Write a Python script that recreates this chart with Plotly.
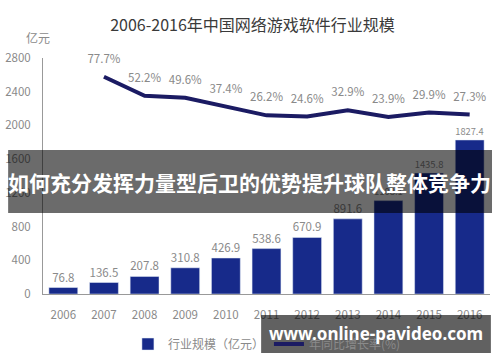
import plotly.graph_objects as go

years = ["2006", "2007", "2008", "2009", "2010", "2011", "2012", "2013", "2014", "2015", "2016"]
scale = [76.8, 136.5, 207.8, 310.8, 426.9, 538.6, 670.9, 891.6, 1108.1, 1435.8, 1827.4]
growth_years = ["2007", "2008", "2009", "2010", "2011", "2012", "2013", "2014", "2015", "2016"]
growth = [77.7, 52.2, 49.6, 37.4, 26.2, 24.6, 32.9, 23.9, 29.9, 27.3]
y_ticks = [0, 400, 800, 1200, 1600, 2000, 2400, 2800]

FONT = "Noto Sans CJK SC"
GRAY = "#8a8a8a"

fig = go.Figure()
fig.add_trace(go.Bar(
    x=years, y=scale, name="行业规模（亿元）",
    marker=dict(color="#172a8a"),
    text=[f"{v:.1f}" for v in scale], textposition="outside",
    textfont=dict(size=11.5, color=GRAY, family=FONT),
    cliponaxis=False,
))
fig.add_trace(go.Scatter(
    x=growth_years, y=growth, name="年同比增长率(%)", yaxis="y2",
    mode="lines+markers+text", line=dict(color="#1b1b63", width=4),
    marker=dict(size=16, color="rgba(0,0,0,0)", line=dict(width=0)),
    text=[f"{g:.1f}%" for g in growth], textposition="top center",
    textfont=dict(size=11.5, color=GRAY, family=FONT),
    cliponaxis=False,
))

fig.update_layout(
    width=500, height=362,
    margin=dict(l=43, r=10, t=58, b=68, autoexpand=False),
    paper_bgcolor="white", plot_bgcolor="white",
    font=dict(family=FONT, color=GRAY, size=12),
    bargap=0.29,
    title=dict(text="2006-2016年中国网络游戏软件行业规模", x=0.505, xanchor="center",
               y=0.931, yanchor="middle",
               font=dict(size=16, color="#3a3a3a", family=FONT)),
    xaxis=dict(type="category", range=[-0.5, 10.5], showline=True, linecolor="#999999",
               linewidth=1, ticks="", showgrid=False, ticklabelstandoff=10, automargin=False,
               tickfont=dict(size=11.5, color=GRAY)),
    yaxis=dict(range=[0, 2800], tickvals=y_ticks, showline=True, linecolor="#999999",
               linewidth=1, showgrid=False, zeroline=False, ticks="", ticklabelstandoff=9,
               automargin=False, tickfont=dict(size=11.5, color=GRAY)),
    yaxis2=dict(overlaying="y", range=[-212, 102.7], showgrid=False, zeroline=False,
                showticklabels=False, showline=False, ticks="", automargin=False),
    showlegend=True,
    legend=dict(orientation="h", x=0.19, y=-0.212, xanchor="left", yanchor="middle",
                font=dict(size=12, color=GRAY), bgcolor="rgba(0,0,0,0)"),
)

fig.add_annotation(text="亿元", x=-0.0425, y=1.131, xref="paper", yref="paper",
                   showarrow=False, font=dict(size=12, color=GRAY, family=FONT))

# overlay banner
fig.add_shape(type="rect", xref="paper", yref="paper", x0=-0.078, x1=1.0045, y0=0.343, y1=0.610,
              fillcolor="rgba(0,0,0,0.58)", line=dict(width=0), layer="above")
fig.add_annotation(text="<b>如何充分发挥力量型后卫的优势提升球队整体竞争力</b>", x=0.463, y=0.475,
                   xref="paper", yref="paper", xanchor="center", yanchor="middle", showarrow=False,
                   font=dict(size=21, color="white", family=FONT))
# watermark box
fig.add_shape(type="rect", xref="paper", yref="paper", x0=0.488, x1=1.002, y0=-0.25, y1=-0.089,
              fillcolor="rgba(0,0,0,0.62)", line=dict(width=0), layer="above")
fig.add_annotation(text="<b>www.online-pavideo.com</b>", x=0.745, y=-0.169,
                   xref="paper", yref="paper", xanchor="center", yanchor="middle", showarrow=False,
                   font=dict(size=17, color="white", family="Noto Sans"))

fig.write_html("out.html")
